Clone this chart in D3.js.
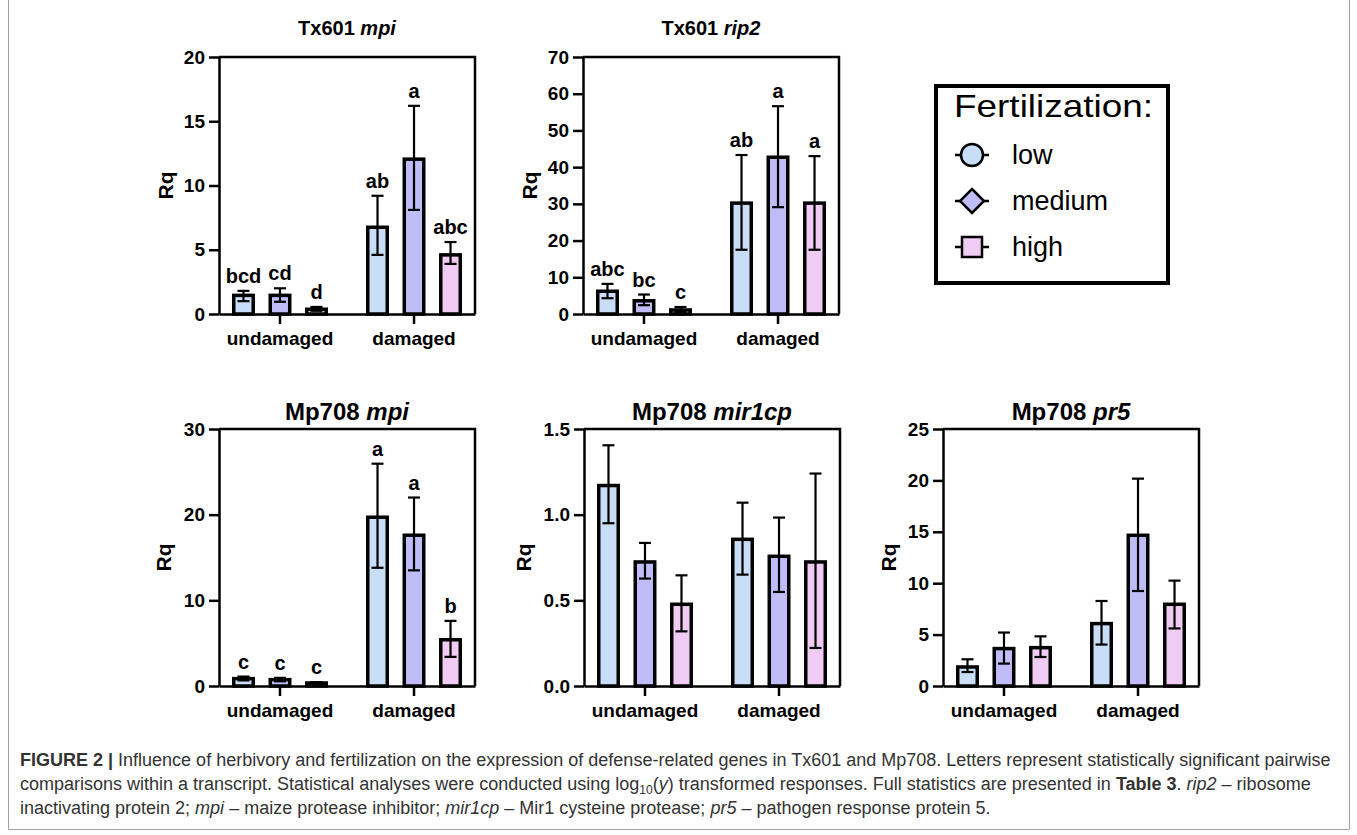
<!DOCTYPE html>
<html>
<head>
<meta charset="utf-8">
<script src="https://cdn.jsdelivr.net/npm/d3@7/dist/d3.min.js"></script>
<style>
  html, body { margin: 0; padding: 0; background: #fff; }
  svg { display: block; font-family: "Liberation Sans", Arial, sans-serif; }
</style>
</head>
<body>
<svg id="chart" width="1357" height="835"></svg>
<script>
// ---------------- DATA ----------------
const groups = ["undamaged", "damaged"];
const levels = ["low", "medium", "high"];
const levelColors = ["#c8ddf7", "#bfbcf8", "#f0cbf3"];
const legendTitle = "Fertilization:";

// order: undamaged low/medium/high, damaged low/medium/high
const tx601MpiMean  = [1.45, 1.45, 0.37, 6.75, 12.05, 4.6];
const tx601MpiUpper = [1.8, 2.0, 0.55, 9.2, 16.2, 5.6];
const tx601MpiLower = [1.0, 0.95, 0.25, 4.6, 8.1, 3.9];
const tx601MpiLetters = ["bcd", "cd", "d", "ab", "a", "abc"];
const tx601MpiTicks = [0, 5, 10, 15, 20];

const tx601Rip2Mean  = [6.2, 3.6, 1.1, 30.2, 42.7, 30.2];
const tx601Rip2Upper = [8.2, 5.3, 1.9, 43.3, 56.6, 43.0];
const tx601Rip2Lower = [4.3, 2.4, 0.6, 17.5, 29.1, 17.5];
const tx601Rip2Letters = ["abc", "bc", "c", "ab", "a", "a"];
const tx601Rip2Ticks = [0, 10, 20, 30, 40, 50, 60, 70];

const mp708MpiMean  = [0.86, 0.74, 0.35, 19.7, 17.6, 5.4];
const mp708MpiUpper = [1.1, 0.95, 0.45, 25.95, 22.0, 7.6];
const mp708MpiLower = [0.65, 0.55, 0.25, 13.8, 13.5, 3.4];
const mp708MpiLetters = ["c", "c", "c", "a", "a", "b"];
const mp708MpiTicks = [0, 10, 20, 30];

const mp708Mir1cpMean  = [1.17, 0.724, 0.477, 0.856, 0.757, 0.724];
const mp708Mir1cpUpper = [1.405, 0.835, 0.646, 1.07, 0.983, 1.24];
const mp708Mir1cpLower = [0.95, 0.627, 0.319, 0.65, 0.549, 0.222];
const mp708Mir1cpTicks = [0, 0.5, 1.0, 1.5];

const mp708Pr5Mean  = [1.85, 3.64, 3.73, 6.07, 14.66, 7.95];
const mp708Pr5Upper = [2.6, 5.2, 4.83, 8.27, 20.17, 10.25];
const mp708Pr5Lower = [1.36, 2.18, 2.82, 4.03, 9.24, 5.6];
const mp708Pr5Ticks = [0, 5, 10, 15, 20, 25];

const yLabel = "Rq";

// ---------------- LAYOUT ----------------
const svg = d3.select("#chart");
const PW = 256, PH = 257;

const panels = [
  { prefix: "Tx601 ", gene: "mpi",  left: 219, top: 57,  mean: tx601MpiMean, up: tx601MpiUpper, lo: tx601MpiLower, letters: tx601MpiLetters, ticks: tx601MpiTicks, fmt: d3.format("d"), titleSize: 20, titleY: 35, rqOff: 53 },
  { prefix: "Tx601 ", gene: "rip2", left: 583, top: 57,  mean: tx601Rip2Mean, up: tx601Rip2Upper, lo: tx601Rip2Lower, letters: tx601Rip2Letters, ticks: tx601Rip2Ticks, fmt: d3.format("d"), titleSize: 20, titleY: 35, rqOff: 53 },
  { prefix: "Mp708 ", gene: "mpi",  left: 219, top: 429, mean: mp708MpiMean, up: mp708MpiUpper, lo: mp708MpiLower, letters: mp708MpiLetters, ticks: mp708MpiTicks, fmt: d3.format("d"), titleSize: 24, titleY: 420, rqOff: 55 },
  { prefix: "Mp708 ", gene: "mir1cp", left: 584, top: 429, mean: mp708Mir1cpMean, up: mp708Mir1cpUpper, lo: mp708Mir1cpLower, letters: null, ticks: mp708Mir1cpTicks, fmt: d3.format(".1f"), titleSize: 24, titleY: 420, rqOff: 60 },
  { prefix: "Mp708 ", gene: "pr5",  left: 943, top: 429, mean: mp708Pr5Mean, up: mp708Pr5Upper, lo: mp708Pr5Lower, letters: null, ticks: mp708Pr5Ticks, fmt: d3.format("d"), titleSize: 24, titleY: 420, rqOff: 54 }
];

const x0 = d3.scaleBand().domain(groups).range([0, PW]).paddingInner(0.183).paddingOuter(0.0465);
const x1 = d3.scaleBand().domain(levels).range([0, x0.bandwidth()]).paddingInner(0.466).paddingOuter(0.233);

panels.forEach(p => {
  const g = svg.append("g").attr("transform", `translate(${p.left},${p.top})`);
  const y = d3.scaleLinear().domain([0, d3.max(p.ticks)]).range([PH, 0]);

  const rows = [];
  groups.forEach((gr, gi) => levels.forEach((lv, li) => {
    const i = gi * 3 + li;
    rows.push({ group: gr, level: lv, li, mean: p.mean[i], up: p.up[i], lo: p.lo[i], letter: p.letters ? p.letters[i] : null });
  }));

  // frame (top & right)
  g.append("path")
    .attr("d", `M0,${y(d3.max(p.ticks))}H${PW}V${PH}`)
    .attr("fill", "none").attr("stroke", "#000").attr("stroke-width", 2.5);

  // bars
  g.selectAll("rect.bar").data(rows).join("rect")
    .attr("class", "bar")
    .attr("x", d => x0(d.group) + x1(d.level))
    .attr("width", x1.bandwidth())
    .attr("y", d => y(d.mean))
    .attr("height", d => y(0) - y(d.mean))
    .attr("fill", d => levelColors[d.li])
    .attr("stroke", "#000").attr("stroke-width", 3.5);

  // error bars
  const eb = g.selectAll("g.err").data(rows).join("g").attr("class", "err")
    .attr("transform", d => `translate(${x0(d.group) + x1(d.level) + x1.bandwidth() / 2},0)`);
  eb.append("line").attr("y1", d => y(d.lo)).attr("y2", d => y(d.up))
    .attr("stroke", "#000").attr("stroke-width", 2.2);
  eb.append("line").attr("x1", -6).attr("x2", 6).attr("y1", d => y(d.up)).attr("y2", d => y(d.up))
    .attr("stroke", "#000").attr("stroke-width", 2.2);
  eb.append("line").attr("x1", -6).attr("x2", 6).attr("y1", d => y(d.lo)).attr("y2", d => y(d.lo))
    .attr("stroke", "#000").attr("stroke-width", 2.2);

  // letters
  if (p.letters) {
    eb.append("text").attr("y", d => y(d.up) - 8)
      .attr("text-anchor", "middle").attr("font-weight", "bold").attr("font-size", 20)
      .text(d => d.letter);
  }

  // axes
  const ay = g.append("g").call(d3.axisLeft(y).tickValues(p.ticks).tickFormat(p.fmt).tickSize(10).tickSizeOuter(0).tickPadding(4));
  ay.select(".domain").attr("stroke-width", 2.5);
  ay.selectAll(".tick line").attr("stroke-width", 2.5);
  ay.selectAll(".tick text").attr("font-size", 19).attr("font-weight", "bold").attr("font-family", "Liberation Sans, Arial, sans-serif").attr("fill", "#000");

  const ax = g.append("g").attr("transform", `translate(0,${PH})`)
    .call(d3.axisBottom(x0).tickSize(10).tickSizeOuter(0).tickPadding(8));
  ax.select(".domain").attr("stroke-width", 2.5);
  ax.selectAll(".tick line").attr("stroke-width", 2.5);
  ax.selectAll(".tick text").attr("font-size", 19).attr("font-weight", "bold").attr("font-family", "Liberation Sans, Arial, sans-serif").attr("fill", "#000");

  // y label
  g.append("text")
    .attr("transform", `translate(${-p.rqOff},${PH / 2}) rotate(-90)`)
    .attr("text-anchor", "middle").attr("dy", "0.35em")
    .attr("font-weight", "bold").attr("font-size", 21).text(yLabel);

  // title
  const t = svg.append("text").attr("x", p.left + PW / 2).attr("y", p.titleY)
    .attr("text-anchor", "middle").attr("font-weight", "bold").attr("font-size", p.titleSize);
  t.append("tspan").text(p.prefix);
  t.append("tspan").attr("font-style", "italic").text(p.gene);
});

// ---------------- LEGEND ----------------
const lg = svg.append("g");
lg.append("rect").attr("x", 936).attr("y", 86).attr("width", 232).attr("height", 197)
  .attr("fill", "#fff").attr("stroke", "#000").attr("stroke-width", 4);
lg.append("text").attr("x", 954).attr("y", 117).attr("font-size", 32)
  .attr("textLength", 199).attr("lengthAdjust", "spacingAndGlyphs").text(legendTitle);
const symY = d3.scalePoint().domain(levels).range([155, 247]);
levels.forEach((lv, i) => {
  const cy = symY(lv), cx = 972;
  const s = lg.append("g").attr("transform", `translate(${cx},${cy})`);
  s.append("line").attr("x1", -17).attr("x2", 17).attr("stroke", "#000").attr("stroke-width", 2.5);
  if (i === 0) s.append("circle").attr("r", 11);
  else if (i === 1) s.append("path").attr("d", "M0,-12L12,0L0,12L-12,0Z");
  else s.append("rect").attr("x", -10).attr("y", -10).attr("width", 20).attr("height", 20);
  s.selectAll("circle,path,rect").attr("fill", levelColors[i]).attr("stroke", "#000").attr("stroke-width", 2.5);
  lg.append("text").attr("x", 1012).attr("y", cy + 9).attr("font-size", 27).text(lv);
});

// ---------------- CAPTION ----------------
const cap = svg.append("g").attr("font-size", 18).attr("fill", "#333");
const l1 = cap.append("text").attr("x", 20).attr("y", 766);
l1.append("tspan").attr("font-weight", "bold").text("FIGURE 2 |");
l1.append("tspan").text(" Influence of herbivory and fertilization on the expression of defense-related genes in Tx601 and Mp708. Letters represent statistically significant pairwise");
const l2 = cap.append("text").attr("x", 20).attr("y", 790);
l2.append("tspan").text("comparisons within a transcript. Statistical analyses were conducted using log");
l2.append("tspan").attr("font-size", 12).attr("dy", 4).text("10");
l2.append("tspan").attr("dy", -4).text("(");
l2.append("tspan").attr("font-style", "italic").text("y");
l2.append("tspan").text(") transformed responses. Full statistics are presented in ");
l2.append("tspan").attr("font-weight", "bold").text("Table 3");
l2.append("tspan").text(". ");
l2.append("tspan").attr("font-style", "italic").text("rip2");
l2.append("tspan").text(" – ribosome");
const l3 = cap.append("text").attr("x", 20).attr("y", 814);
l3.append("tspan").text("inactivating protein 2; ");
l3.append("tspan").attr("font-style", "italic").text("mpi");
l3.append("tspan").text(" – maize protease inhibitor; ");
l3.append("tspan").attr("font-style", "italic").text("mir1cp");
l3.append("tspan").text(" – Mir1 cysteine protease; ");
l3.append("tspan").attr("font-style", "italic").text("pr5");
l3.append("tspan").text(" – pathogen response protein 5.");

// outer frame
svg.append("path").attr("d", "M8.5,0V829.5H1349.5V0").attr("fill", "none").attr("stroke", "#a0a0a0").attr("stroke-width", 1);
</script>
</body>
</html>
